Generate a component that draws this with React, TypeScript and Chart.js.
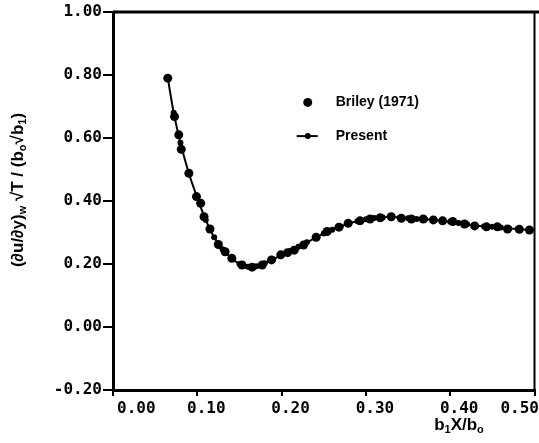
import React, { useEffect, useRef } from "react";
import { Chart, registerables } from "chart.js";

Chart.register(...registerables);

// Briley (1971) – symbols
const brileyX = [0.065, 0.073, 0.078, 0.081, 0.090, 0.099, 0.104, 0.108, 0.115, 0.125, 0.133, 0.141, 0.153, 0.165, 0.177, 0.188, 0.199, 0.207, 0.215, 0.226, 0.241, 0.254, 0.268, 0.279, 0.293, 0.305, 0.317, 0.330, 0.342, 0.354, 0.368, 0.380, 0.391, 0.403, 0.417, 0.429, 0.443, 0.456, 0.468, 0.482, 0.494];
const brileyY = [0.790, 0.668, 0.610, 0.564, 0.488, 0.414, 0.393, 0.350, 0.311, 0.262, 0.239, 0.218, 0.197, 0.190, 0.197, 0.213, 0.229, 0.236, 0.244, 0.260, 0.285, 0.303, 0.317, 0.329, 0.337, 0.343, 0.347, 0.350, 0.345, 0.343, 0.343, 0.340, 0.337, 0.335, 0.327, 0.321, 0.318, 0.318, 0.311, 0.310, 0.308];

// Present – line with small symbols
const presentX = [0.065, 0.072, 0.080, 0.090, 0.100, 0.110, 0.120, 0.130, 0.140, 0.150, 0.160, 0.170, 0.180, 0.190, 0.200, 0.210, 0.220, 0.230, 0.240, 0.250, 0.260, 0.270, 0.280, 0.290, 0.300, 0.310, 0.320, 0.330, 0.340, 0.350, 0.360, 0.370, 0.380, 0.390, 0.400, 0.410, 0.420, 0.430, 0.440, 0.450, 0.460, 0.470, 0.480, 0.494];
const presentY = [0.790, 0.680, 0.585, 0.488, 0.410, 0.340, 0.285, 0.247, 0.220, 0.200, 0.191, 0.193, 0.202, 0.215, 0.229, 0.241, 0.255, 0.269, 0.283, 0.297, 0.309, 0.319, 0.329, 0.336, 0.342, 0.346, 0.348, 0.350, 0.347, 0.345, 0.343, 0.342, 0.340, 0.337, 0.334, 0.330, 0.326, 0.322, 0.319, 0.318, 0.316, 0.313, 0.311, 0.308];

const xTickValues = [0.0, 0.1, 0.2, 0.3, 0.4, 0.5];
const xTickLabels = ["0.00", "0.10", "0.20", "0.30", "0.40", "0.50"];

const legendLabels = ["Briley (1971)", "Present"];

const TICK_FONT = "bold 16px 'DejaVu Sans Mono'";
const TEXT_FONT = "bold 14px 'Liberation Sans'";

const decorPlugin = {
  id: "decor",
  afterDraw(chart: any) {
    const ctx = chart.ctx as CanvasRenderingContext2D;
    const { top, right, left, bottom } = chart.chartArea;
    const xs = chart.scales.x;
    ctx.save();
    ctx.strokeStyle = "#000";
    ctx.fillStyle = "#000";
    // top and right frame
    ctx.lineWidth = 3;
    ctx.beginPath();
    ctx.moveTo(left, top);
    ctx.lineTo(chart.width, top);
    ctx.stroke();
    ctx.lineWidth = 2;
    ctx.beginPath();
    ctx.moveTo(right, top);
    ctx.lineTo(right, bottom);
    ctx.stroke();

    // x tick labels
    ctx.font = TICK_FONT;
    ctx.textBaseline = "middle";
    xTickValues.forEach((v, i) => {
      const px = xs.getPixelForValue(v);
      if (i === 0) {
        ctx.textAlign = "left";
        ctx.fillText(xTickLabels[i], px + 4, bottom + 19);
      } else if (i === xTickValues.length - 1) {
        ctx.textAlign = "right";
        ctx.fillText(xTickLabels[i], chart.width, bottom + 19);
      } else {
        ctx.textAlign = "center";
        ctx.fillText(xTickLabels[i], px + 9, bottom + 19);
      }
    });

    const drawRuns = (runs: [string, boolean][], x: number, y: number) => {
      let cx = x;
      runs.forEach(([t, sub]) => {
        ctx.font = sub ? "bold 11px 'Liberation Sans'" : "bold 17px 'Liberation Sans'";
        ctx.fillText(t, cx, sub ? y + 5 : y);
        cx += ctx.measureText(t).width;
      });
      return cx - x;
    };
    const measureRuns = (runs: [string, boolean][]) => {
      let w = 0;
      runs.forEach(([t, sub]) => {
        ctx.font = sub ? "bold 11px 'Liberation Sans'" : "bold 17px 'Liberation Sans'";
        w += ctx.measureText(t).width;
      });
      return w;
    };
    ctx.textAlign = "left";
    ctx.textBaseline = "middle";
    // x axis title
    const xTitle: [string, boolean][] = [["b", false], ["1", true], ["X/b", false], ["o", true]];
    const wx = measureRuns(xTitle);
    drawRuns(xTitle, 459 - wx / 2, bottom + 35);

    // y axis title
    const yTitle: [string, boolean][] = [["(∂u/∂y)", false], ["w", true], [" √T / (b", false], ["o", true], ["√b", false], ["1", true], [")", false]];
    ctx.save();
    ctx.translate(18, 190);
    ctx.rotate(-Math.PI / 2);
    const wy = measureRuns(yTitle);
    drawRuns(yTitle, -wy / 2, 0);
    ctx.restore();

    // legend
    const ys = chart.scales.y;
    ctx.font = TEXT_FONT;
    ctx.textAlign = "left";
    ctx.textBaseline = "middle";
    const lx = xs.getPixelForValue(0.231);
    const ly1 = ys.getPixelForValue(0.713);
    const ly2 = ys.getPixelForValue(0.606);
    ctx.beginPath();
    ctx.arc(lx, ly1, 4.5, 0, Math.PI * 2);
    ctx.fill();
    ctx.fillText(legendLabels[0], lx + 28, ly1);
    ctx.lineWidth = 2;
    ctx.beginPath();
    ctx.moveTo(lx - 11, ly2);
    ctx.lineTo(lx + 10, ly2);
    ctx.stroke();
    ctx.beginPath();
    ctx.arc(lx, ly2, 3, 0, Math.PI * 2);
    ctx.fill();
    ctx.fillText(legendLabels[1], lx + 28, ly2);
    ctx.restore();
  },
};

export default function App() {
  const ref = useRef<HTMLCanvasElement | null>(null);
  useEffect(() => {
    if (!ref.current) return;
    const chart = new Chart(ref.current, {
      type: "scatter",
      data: {
        datasets: [
          {
            label: legendLabels[0],
            data: brileyX.map((x, i) => ({ x, y: brileyY[i] })),
            showLine: false,
            pointRadius: 4.5,
            pointBackgroundColor: "#000",
            pointBorderColor: "#000",
            pointBorderWidth: 0,
          },
          {
            label: legendLabels[1],
            data: presentX.map((x, i) => ({ x, y: presentY[i] })),
            showLine: true,
            borderColor: "#000",
            borderWidth: 2,
            cubicInterpolationMode: "monotone",
            pointRadius: 3,
            pointBackgroundColor: "#000",
            pointBorderColor: "#000",
            pointBorderWidth: 0,
          },
        ],
      },
      options: {
        responsive: false,
        animation: false,
        layout: { padding: { top: 12, right: 2, left: 0, bottom: 0 } },
        plugins: { legend: { display: false }, tooltip: { enabled: false } },
        scales: {
          x: {
            type: "linear",
            min: 0,
            max: 0.5,
            ticks: { display: false, stepSize: 0.1 },
            grid: { drawOnChartArea: false, drawTicks: true, tickLength: 6, color: "#000", lineWidth: 2 },
            border: { display: true, color: "#000", width: 3 },
            afterFit: (s: any) => {
              s.height = 53;
            },
          },
          y: {
            type: "linear",
            min: -0.2,
            max: 1.0,
            ticks: {
              stepSize: 0.2,
              color: "#000",
              font: { family: "'DejaVu Sans Mono'", size: 16, weight: "bold" },
              padding: 1,
              callback: (v: any) => {
                const n = Math.abs(Number(v)) < 1e-9 ? 0 : Number(v);
                return n.toFixed(2);
              },
            },
            grid: { drawOnChartArea: false, drawTicks: true, tickLength: 10, color: "#000", lineWidth: 2 },
            border: { display: true, color: "#000", width: 3 },
            afterFit: (s: any) => {
              s.width = 113;
            },
          },
        },
      },
      plugins: [decorPlugin],
    } as any);
    return () => chart.destroy();
  }, []);
  return (
    <div style={{ position: "absolute", left: 0, top: 0, width: 539, height: 443, background: "#fff" }}>
      <canvas ref={ref} width={539} height={443} style={{ display: "block" }} />
    </div>
  );
}
